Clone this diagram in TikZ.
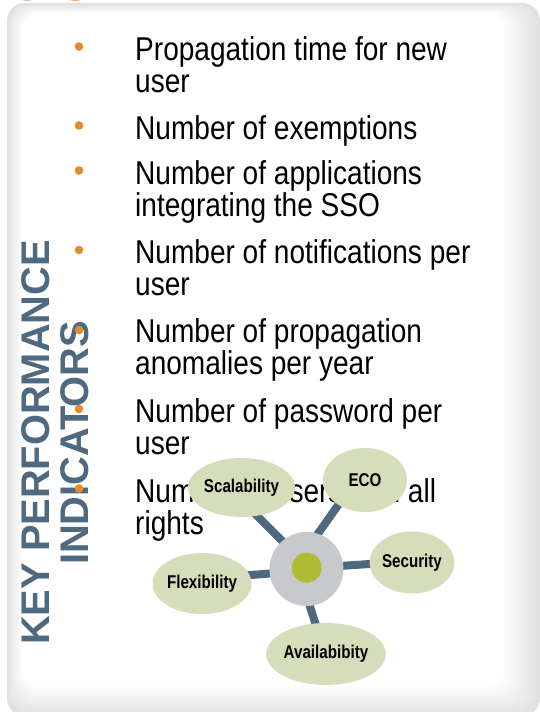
\documentclass[tikz,border=0pt]{standalone}
\usepackage{fontspec}
\setmainfont{Liberation Sans}
\newfontfamily\bodyfont[FakeStretch=0.85]{Liberation Sans}
\newfontfamily\kpifont[FakeStretch=0.995]{Liberation Sans}
\newfontfamily\lblfont[FakeStretch=0.82]{Liberation Sans}
\usetikzlibrary{shapes.geometric}
\definecolor{panelgray}{RGB}{224,224,224}
\definecolor{orangeT}{RGB}{232,145,45}
\definecolor{bulletc}{RGB}{227,139,46}
\definecolor{slate}{RGB}{79,106,128}
\definecolor{linkc}{RGB}{79,104,125}
\definecolor{sage}{RGB}{214,221,186}
\definecolor{hubgray}{RGB}{200,201,204}
\definecolor{hubgreen}{RGB}{176,187,53}
\pgfdeclarelayer{back}
\pgfdeclarelayer{links}
\pgfsetlayers{back,links,main}
\tikzset{
  itemline/.style={anchor=base west, inner sep=0pt, text=black,
    font=\bodyfont\fontsize{33}{33}\selectfont},
  bulletdot/.style={circle, fill=bulletc, inner sep=0pt, minimum size=8.6pt},
  kpi/.style={rotate=90, anchor=base, inner sep=0pt, text=slate,
    font=\kpifont\bfseries\fontsize{40}{40}\selectfont},
  petal/.style={ellipse, fill=sage, inner sep=0pt,
    font=\lblfont\bfseries\fontsize{18.5}{18.5}\selectfont},
  link/.style={draw=linkc, line width=8pt, shorten <=-4pt, shorten >=-4pt}
}
\begin{document}
\begin{tikzpicture}[x=1pt,y=-1pt]
\useasboundingbox (0,0) rectangle (539,712);
\begin{pgfonlayer}{back}
% panel with soft grey edge
\fill[panelgray, rounded corners=18pt] (7,3) rectangle (540,716);
\foreach \i in {1,...,20}{
  \pgfmathtruncatemacro\p{5*\i}
  \fill[white!\p!panelgray, rounded corners=18pt]
    (7+0.75*\i, 3+0.5*\i) rectangle (540-1.8*\i, 716-1.5*\i);
}
\end{pgfonlayer}
% clipped orange title
\node[anchor=base west, inner sep=0pt, text=orangeT,
  font=\bfseries\fontsize{70}{70}\selectfont] (title) at (12,0.5) {tion};
% vertical heading
\node[kpi] (kpi1) at (49,442.5) {KEY PERFORMANCE};
\node[kpi] (kpi2) at (88,443) {INDICATORS};
% bullet list
\node[itemline] (i1a) at (135,60.7) {Propagation time for new};
\node[itemline] (i1b) at (135,92.7) {user};
\node[itemline] (i2a) at (135,139) {Number of exemptions};
\node[itemline] (i3a) at (135,184) {Number of applications};
\node[itemline] (i3b) at (135,216) {integrating the SSO};
\node[itemline] (i4a) at (135,263) {Number of notifications per};
\node[itemline] (i4b) at (135,295) {user};
\node[itemline] (i5a) at (135,342) {Number of propagation};
\node[itemline] (i5b) at (135,374) {anomalies per year};
\node[itemline] (i6a) at (135,422) {Number of password per};
\node[itemline] (i6b) at (135,454) {user};
\node[itemline] (i7a) at (135,502) {Number of users with all};
\node[itemline] (i7b) at (135,534) {rights};
\node[bulletdot] (b1) at (79,46.5) {};
\node[bulletdot] (b2) at (79,125.5) {};
\node[bulletdot] (b3) at (79,170.5) {};
\node[bulletdot] (b4) at (79,250) {};
\node[bulletdot] (b5) at (79,330) {};
\node[bulletdot] (b6) at (79,409) {};
\node[bulletdot] (b7) at (79,488.5) {};
% hub diagram
\node[circle, fill=hubgray, inner sep=0pt, minimum size=74pt] (hub) at (306.5,569) {};
\node[circle, fill=hubgreen, inner sep=0pt, minimum size=30pt] (core) at (306.7,567.7) {};
\node[petal, minimum width=107pt, minimum height=59pt] (scal) at (241.5,487.5) {Scalability};
\node[petal, minimum width=84pt, minimum height=64pt] (eco) at (365,480) {ECO};
\node[petal, minimum width=81pt, minimum height=62pt] (sec) at (412,562.5) {Security};
\node[petal, minimum width=84pt, minimum height=61pt] (flex) at (202,583.5) {Flexibility};
\node[petal, minimum width=108pt, minimum height=62pt] (avail) at (326,654) {Availabibity};
% connectors beneath the shapes
\begin{pgfonlayer}{links}
\draw[link] (hub.131) -- (scal.299);
\draw[link] (hub.72) -- (eco.223);
\draw[link] (hub.5) -- (sec.182);
\draw[link] (hub.187) -- (flex.10);
\draw[link] (hub.275) -- (avail.109);
\end{pgfonlayer}
\end{tikzpicture}
\end{document}
